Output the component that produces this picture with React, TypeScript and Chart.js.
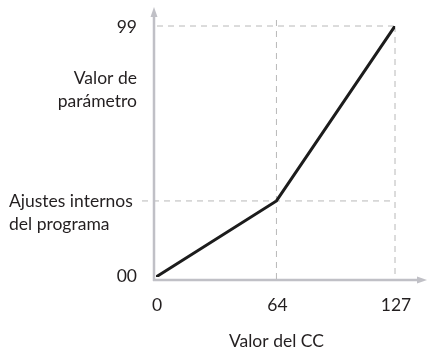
import React, { useEffect, useRef } from "react";
import { Chart, registerables } from "chart.js";

Chart.register(...registerables);

const ccValues = [0, 64, 127];
const paramValues = [0, 30, 99];
const xTickValues = [0, 64, 127];
const xTickLabels = ["0", "64", "127"];
const yTopLabel = "99";
const yBottomLabel = "00";
const yTitleLines = ["Valor de", "parámetro"];
const yTitleValue = 74;
const midLabelLines = ["Ajustes internos", "del programa"];
const xTitle = "Valor del CC";

const FONT = "17.5px Lato, 'Noto Sans', sans-serif";
const TEXT = "#231f20";
const AXIS = "#c0c0c6";
const GRID = "#b8b8b8";

const overlay = {
  id: "overlay",
  beforeDatasetsDraw(chart: any) {
    const { ctx, chartArea } = chart;
    const xs = chart.scales.x;
    const ys = chart.scales.y;
    const x64 = xs.getPixelForValue(ccValues[1]);
    const x127 = xs.getPixelForValue(ccValues[2]);
    const yMid = ys.getPixelForValue(paramValues[1]);
    const yTop = ys.getPixelForValue(paramValues[2]);
    const axX = chartArea.left - 2;
    const axY = chartArea.bottom + 3;

    ctx.save();
    ctx.strokeStyle = GRID;
    ctx.lineWidth = 1;
    ctx.setLineDash([6, 5]);
    ctx.beginPath();
    ctx.moveTo(axX + 3, yTop);
    ctx.lineTo(x127, yTop);
    ctx.moveTo(chartArea.left - 14, yMid);
    ctx.lineTo(x127, yMid);
    ctx.moveTo(x64, chartArea.top - 6);
    ctx.lineTo(x64, axY);
    ctx.moveTo(x127, chartArea.top);
    ctx.lineTo(x127, axY);
    ctx.stroke();
    ctx.setLineDash([]);

    ctx.strokeStyle = AXIS;
    ctx.fillStyle = AXIS;
    ctx.lineWidth = 2.5;
    ctx.beginPath();
    ctx.moveTo(axX, axY + 1);
    ctx.lineTo(axX, 14);
    ctx.moveTo(axX - 1, axY);
    ctx.lineTo(chart.width - 7, axY);
    ctx.stroke();
    ctx.beginPath();
    ctx.moveTo(axX, 7);
    ctx.lineTo(axX - 3.5, 17);
    ctx.lineTo(axX + 3.5, 17);
    ctx.closePath();
    ctx.fill();
    ctx.beginPath();
    ctx.moveTo(chart.width, axY);
    ctx.lineTo(chart.width - 10, axY - 3.5);
    ctx.lineTo(chart.width - 10, axY + 3.5);
    ctx.closePath();
    ctx.fill();

    ctx.fillStyle = TEXT;
    ctx.font = FONT;
    ctx.textBaseline = "middle";
    const rightX = chartArea.left - 19;
    ctx.textAlign = "right";
    ctx.fillText(yTopLabel, rightX, yTop + 1);
    ctx.fillText(yBottomLabel, rightX, ys.getPixelForValue(0) - 1);
    const yt = ys.getPixelForValue(yTitleValue);
    ctx.fillText(yTitleLines[0], rightX, yt - 11);
    ctx.fillText(yTitleLines[1], rightX, yt + 12);
    ctx.textAlign = "left";
    ctx.fillText(midLabelLines[0], 9, yMid);
    ctx.fillText(midLabelLines[1], 9, yMid + 23);
    ctx.textAlign = "center";
    xTickValues.forEach((v, i) => {
      ctx.fillText(xTickLabels[i], xs.getPixelForValue(v) + 1, axY + 25);
    });
    ctx.fillText(xTitle, x64, axY + 61);
    ctx.restore();
  },
};

export default function App() {
  const ref = useRef<HTMLCanvasElement>(null);
  useEffect(() => {
    if (!ref.current) return;
    const chart = new Chart(ref.current, {
      type: "scatter",
      data: {
        datasets: [
          {
            data: ccValues.map((x, i) => ({ x, y: paramValues[i] })),
            showLine: true,
            borderColor: "#1c1c1c",
            borderWidth: 3,
            pointRadius: 0,
            tension: 0,
          },
        ],
      },
      options: {
        animation: false,
        responsive: false,
        layout: { padding: { left: 156, right: 32, top: 26, bottom: 72 } },
        plugins: { legend: { display: false }, tooltip: { enabled: false } },
        scales: {
          x: { type: "linear", min: 0, max: 127, display: false },
          y: { type: "linear", min: 0, max: 99, display: false },
        },
      },
      plugins: [overlay],
    });
    return () => chart.destroy();
  }, []);
  return (
    <div style={{ position: "fixed", left: 0, top: 0, width: 427, height: 349, background: "#fff" }}>
      <canvas ref={ref} width={427} height={349} style={{ width: 427, height: 349 }} />
    </div>
  );
}
